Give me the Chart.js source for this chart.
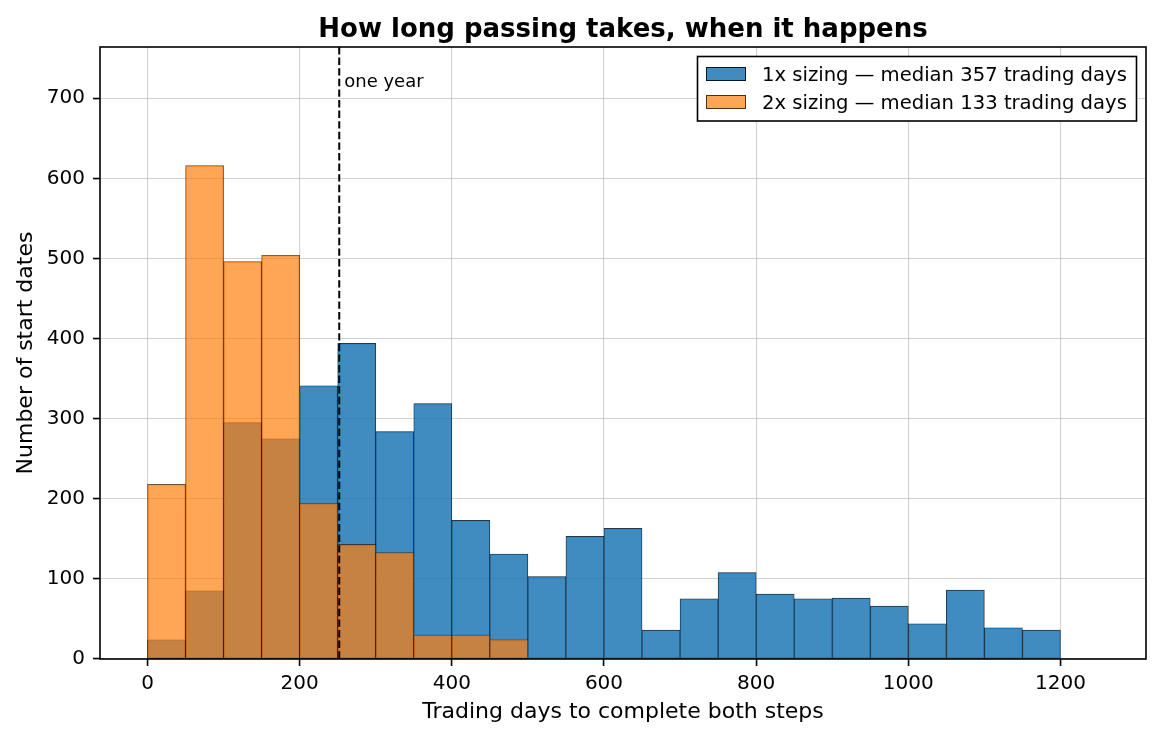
<!DOCTYPE html>
<html>
<head>
<meta charset="utf-8">
<script src="https://cdn.jsdelivr.net/npm/chart.js@4.4.1/dist/chart.umd.min.js"></script>
<style>
html,body{margin:0;padding:0;background:#ffffff;}
canvas{display:block;}
</style>
</head>
<body>
<canvas id="c" width="1161" height="737"></canvas>
<script>
// ---- data ----
const binStarts = [0,50,100,150,200,250,300,350,400,450,500,550,600,650,700,750,800,850,900,950,1000,1050,1100,1150];
const binWidth = 50;
const oneXCounts = [24,85,295,275,341,394,284,319,173,131,103,153,163,36,75,108,81,75,76,66,44,86,39,36];
const twoXCounts = [218,616,496,504,194,143,133,30,30,24,0,0,0,0,0,0,0,0,0,0,0,0,0,0];
const xTickValues = [0,200,400,600,800,1000,1200];
const yTickValues = [0,100,200,300,400,500,600,700];
const oneYearDays = 252;
const titleText = 'How long passing takes, when it happens';
const xLabelText = 'Trading days to complete both steps';
const yLabelText = 'Number of start dates';
const legendLabels = ['1x sizing \u2014 median 357 trading days', '2x sizing \u2014 median 133 trading days'];
const oneYearText = 'one year';

const FONT = '"DejaVu Sans", "Liberation Sans", sans-serif';
const blueFill = 'rgba(31,119,180,0.85)';
const blueEdge = 'rgba(0,0,0,0.85)';
const orangeFill = 'rgba(255,127,14,0.7)';
const orangeEdge = 'rgba(0,0,0,0.7)';
const gridColor = 'rgba(176,176,176,0.6)';

const toPoints = (counts) => binStarts.map((s, i) => ({x: s + binWidth / 2, y: counts[i]}));

const overlay = {
  id: 'overlay',
  afterDraw(chart) {
    const ctx = chart.ctx;
    const a = chart.chartArea;
    const xs = chart.scales.x;
    ctx.save();
    // one-year dashed line
    const px = xs.getPixelForValue(oneYearDays);
    ctx.strokeStyle = '#000';
    ctx.lineWidth = 2;
    ctx.setLineDash([7.4, 3.2]);
    ctx.beginPath();
    ctx.moveTo(px, a.top);
    ctx.lineTo(px, a.bottom);
    ctx.stroke();
    ctx.setLineDash([]);
    ctx.fillStyle = '#000';
    ctx.font = '18px ' + FONT;
    ctx.textAlign = 'left';
    ctx.textBaseline = 'alphabetic';
    ctx.fillText(oneYearText, px + 5, a.top + 40);

    // spines
    ctx.lineWidth = 1.6;
    ctx.strokeStyle = '#000';
    ctx.strokeRect(a.left, a.top, a.right - a.left, a.bottom - a.top);

    // title
    const cx = (a.left + a.right) / 2;
    ctx.textAlign = 'center';
    ctx.font = 'bold 26px ' + FONT;
    ctx.fillText(titleText, cx, 37);
    // x label
    ctx.font = '22px ' + FONT;
    ctx.fillText(xLabelText, cx, 718);
    // y label
    ctx.save();
    ctx.translate(32, (a.top + a.bottom) / 2);
    ctx.rotate(-Math.PI / 2);
    ctx.fillText(yLabelText, 0, 0);
    ctx.restore();

    // legend
    const lx = 697.5, ly = 56.5, lw = 439, lh = 64.5;
    ctx.fillStyle = '#ffffff';
    ctx.fillRect(lx, ly, lw, lh);
    ctx.lineWidth = 1.6;
    ctx.strokeStyle = '#000';
    ctx.strokeRect(lx, ly, lw, lh);
    const rows = [
      {fill: blueFill, edge: blueEdge, y: 67, text: legendLabels[0], base: 81},
      {fill: orangeFill, edge: orangeEdge, y: 95, text: legendLabels[1], base: 109}
    ];
    ctx.textAlign = 'left';
    ctx.font = '19.6px ' + FONT;
    rows.forEach(r => {
      ctx.fillStyle = r.fill;
      ctx.fillRect(706, r.y, 40, 14);
      ctx.strokeStyle = r.edge;
      ctx.lineWidth = 1;
      ctx.strokeRect(706.5, r.y + 0.5, 39, 13);
      ctx.fillStyle = '#000';
      ctx.fillText(r.text, 762, r.base);
    });
    ctx.restore();
  }
};

new Chart(document.getElementById('c'), {
  type: 'bar',
  data: {
    datasets: [
      {
        label: legendLabels[0],
        data: toPoints(oneXCounts),
        backgroundColor: blueFill,
        borderColor: blueEdge,
        borderWidth: 0.6,
        borderSkipped: false,
        order: 2,
        grouped: false,
        barPercentage: 1,
        categoryPercentage: 1
      },
      {
        label: legendLabels[1],
        data: toPoints(twoXCounts),
        backgroundColor: orangeFill,
        borderColor: orangeEdge,
        borderWidth: 0.6,
        borderSkipped: false,
        order: 1,
        grouped: false,
        barPercentage: 1,
        categoryPercentage: 1
      }
    ]
  },
  options: {
    responsive: false,
    animation: false,
    events: [],
    layout: {padding: {top: 47, right: 15, left: 0, bottom: 0}},
    plugins: {legend: {display: false}, title: {display: false}, tooltip: {enabled: false}},
    scales: {
      x: {
        type: 'linear',
        min: -62.5,
        max: 1312.5,
        offset: false,
        z: 1,
        afterFit: s => { s.height = 78; },
        afterBuildTicks: s => { s.ticks = xTickValues.map(v => ({value: v})); },
        grid: {offset: false, color: gridColor, lineWidth: 1.1, tickLength: 7, tickColor: '#000', tickWidth: 1.6, drawTicks: true},
        border: {display: false},
        ticks: {autoSkip: false, maxRotation: 0, padding: 6, color: '#000', font: {family: FONT, size: 20}, callback: v => String(v)}
      },
      y: {
        type: 'linear',
        min: 0,
        max: 764,
        z: 1,
        afterFit: s => { s.width = 100; },
        afterBuildTicks: s => { s.ticks = yTickValues.map(v => ({value: v})); },
        grid: {color: gridColor, lineWidth: 1.1, tickLength: 7, tickColor: '#000', tickWidth: 1.6, drawTicks: true},
        border: {display: false},
        ticks: {padding: 8, color: '#000', font: {family: FONT, size: 20}, callback: v => String(v)}
      }
    }
  },
  plugins: [overlay]
});
</script>
</body>
</html>
